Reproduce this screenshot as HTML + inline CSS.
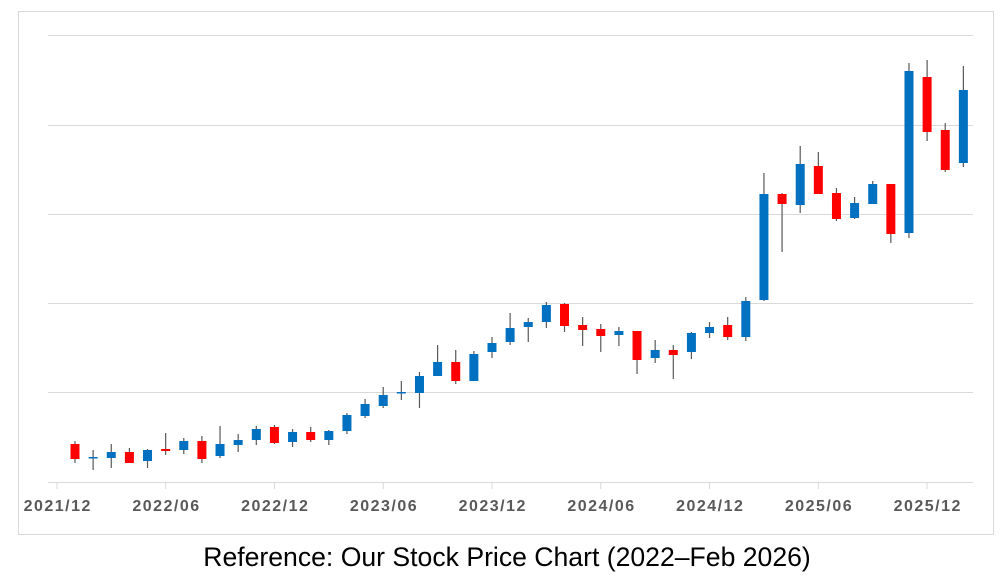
<!DOCTYPE html>
<html><head><meta charset="utf-8"><style>
body{margin:0;background:#fff;width:1002px;height:582px;overflow:hidden;font-family:"Liberation Sans",sans-serif}
</style></head><body>
<svg id="s" width="1002" height="582" xmlns="http://www.w3.org/2000/svg">
<rect x="18.5" y="11.5" width="975" height="523" fill="#fff" stroke="#d9d9d9"/>
<g stroke="#d9d9d9" stroke-width="1">
<line x1="48" x2="973" y1="35.5" y2="35.5"/>
<line x1="48" x2="973" y1="125.5" y2="125.5"/>
<line x1="48" x2="973" y1="214.5" y2="214.5"/>
<line x1="48" x2="973" y1="303.5" y2="303.5"/>
<line x1="48" x2="973" y1="392.5" y2="392.5"/>
<line x1="48" x2="973" y1="482.5" y2="482.5"/>
</g>
<g id="ticks" stroke="#d9d9d9"></g>
<g id="c"></g>
<g font-size="16" font-weight="bold" fill="#595959" text-anchor="middle" letter-spacing="1.5" id="lab"></g>
<text x="507" y="566" font-size="26.6" text-anchor="middle" fill="#000">Reference: Our Stock Price Chart (2022–Feb 2026)</text>
</svg>
<script>
var d=[
['r',444,459,441,463],['b',457,458,450,470],['b',452,458,444,468],['r',452,463,448,463],['b',450,461,449,468],
['r',449,451,433,455],['b',441,450,438,454],['r',441,459,436,463],['b',444,456,426,458],['b',440,445,434,452],
['b',429,440,426,445],['r',427,443,425,444],['b',432,442,429,447],['r',432,440,427,442],['b',431,440,430,445],
['b',415,431,413,434],['b',404,416,399,418],['b',395,406,387,408],['b',392,393,381,400],['b',376,393,372,408],
['b',362,376,345,376],['r',362,381,350,384],['b',354,381,351,381],['b',343,352,337,358],['b',328,342,313,345],
['b',322,327,318,342],['b',305,322,302,328],['r',304,326,303,332],['r',325,330,317,346],['r',329,336,324,352],
['b',331,335,327,346],['r',331,360,331,374],['b',350,358,340,363],['r',350,355,345,379],['b',333,352,332,359],
['b',327,333,322,338],['r',325,337,317,340],['b',301,337,297,341],['b',194,300,173,301],['r',194,204,193,252],
['b',164,205,146,213],['r',166,194,152,194],['r',193,219,188,221],['b',203,218,197,219],['b',184,204,181,204],
['r',184,234,184,243],['b',71,233,63,238],['r',77,132,60,141],['r',130,170,123,172],['b',90,163,66,167]];
var ns="http://www.w3.org/2000/svg",g=document.getElementById('c');
function el(t,a,p){var e=document.createElementNS(ns,t);for(var k in a)e.setAttribute(k,a[k]);(p||g).appendChild(e);return e;}
d.forEach(function(c,i){var x=75+i*18.13;
el('line',{x1:x,x2:x,y1:c[3],y2:c[4],stroke:'#595959','stroke-width':1.2});
el('rect',{x:x-4.5,y:c[1],width:9,height:Math.max(c[2]-c[1],1.5),fill:c[0]=='r'?'#ff0000':'#0070c0'});});
var L=['2021/12','2022/06','2022/12','2023/06','2023/12','2024/06','2024/12','2025/06','2025/12'];
L.forEach(function(s,i){var x=57+i*108.75;
el('line',{x1:x,x2:x,y1:482,y2:489},document.getElementById('ticks'));
var t=el('text',{x:x+0.75,y:511},document.getElementById('lab'));t.textContent=s;});
</script>
</body></html>
